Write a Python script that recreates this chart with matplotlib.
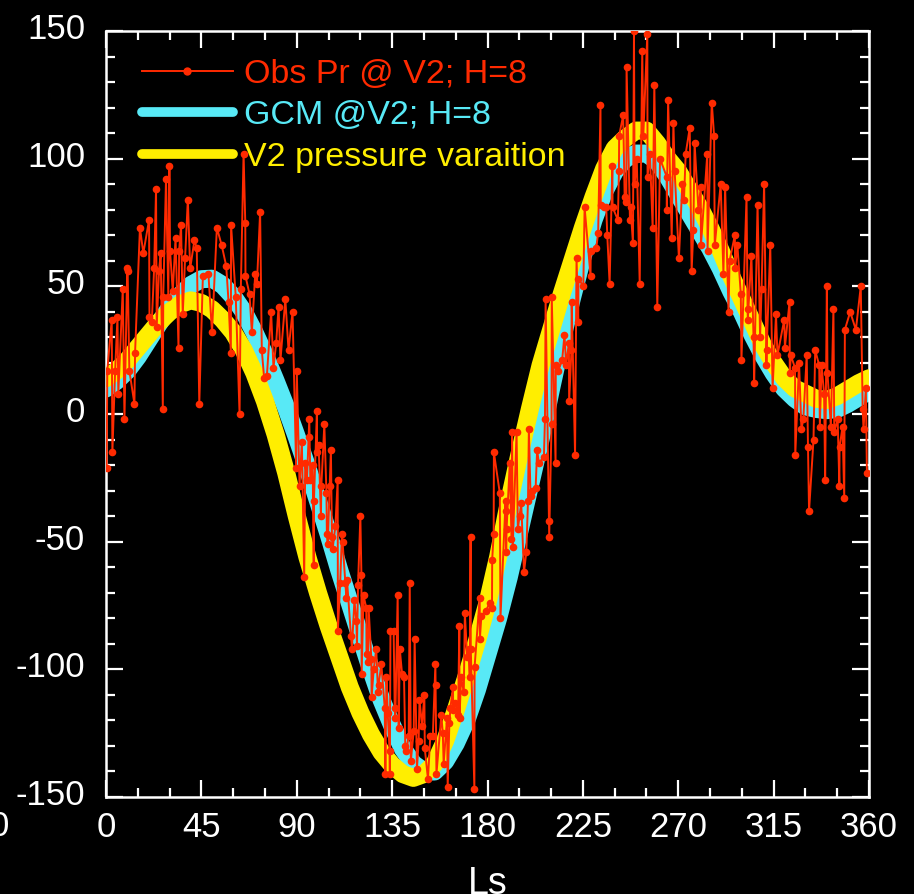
#!/usr/bin/env python3
"""Viking 2 surface pressure vs Ls: observed, GCM and V2 pressure variation."""

import matplotlib
matplotlib.use('Agg')
import matplotlib.pyplot as plt
import matplotlib.transforms as mtransforms
from matplotlib.ticker import MultipleLocator

# smooth curves, sampled every 5 deg of Ls
curve_ls = list(range(0, 361, 5))
gcm_v2 = [10, 13, 17, 22.5, 29, 35.5, 41.5, 46.5, 50.5, 52.8, 53, 50.5, 46, 40,
          32, 23, 13, 2.5, -9, -21, -34, -47, -61, -74, -87, -100, -112, -122,
          -131, -137, -140, -140, -136, -129, -120, -108, -94, -80, -64, -46,
          -28, -10, 10, 29, 46, 62, 76, 87, 95, 100, 102, 102, 99, 93, 86, 79,
          72, 65, 57, 48, 40, 31, 23, 16, 10, 6, 3, 2, 1.5, 2, 4, 6.5, 9]
v2_pressure = [14, 17, 21, 26, 31, 36, 40, 43, 44.5, 43.5, 41, 37, 32, 25, 16, 5,
               -8, -23, -40, -56, -70, -83, -95, -107, -117, -125.5, -132.5,
               -137.5, -141, -142.5, -141, -137, -128, -116, -103, -89, -74, -56,
               -35, -16, 2, 19, 33, 47, 60, 73, 85, 96, 104, 108, 111, 111, 106,
               100, 95, 88, 81, 73, 64, 54, 45, 36, 27, 20, 14, 10, 8, 6, 5.5, 7,
               9.5, 12, 14]

# observed pressure (Ls, value)
obs_ls = [
    0.3, 0.6, 2.7, 3.0, 4.3, 5.4, 5.8, 7.9, 8.7, 10.0, 10.2, 11.0, 13.4, 13.7, 16.0,
    17.6, 20.3, 20.5, 21.6, 22.7, 23.6, 23.9, 25.0, 25.8, 26.8, 27.0, 28.3, 29.4,
    29.9, 30.2, 31.5, 32.8, 34.2, 34.5, 35.4, 36.2, 37.3, 38.6, 39.7, 41.7, 42.8,
    44.0, 45.7, 48.3, 50.0, 52.3, 54.6, 56.7, 57.8, 58.9, 59.0, 61.2, 63.0, 63.6,
    64.9, 65.7, 65.8, 67.7, 68.8, 70.4, 71.2, 72.7, 73.5, 74.6, 75.9, 77.9, 79.0,
    80.3, 81.4, 82.3, 84.6, 86.1, 88.0, 89.7, 90.0, 91.3, 92.4, 93.5, 94.0, 94.8,
    95.6, 95.9, 96.4, 97.5, 98.0, 98.1, 99.5, 99.6, 100.3, 101.4, 101.6, 103.0,
    104.0, 104.2, 104.6, 105.5, 106.1, 106.6, 106.9, 108.2, 109.3, 109.4, 110.5,
    111.3, 111.6, 112.9, 113.4, 113.7, 115.6, 116.0, 117.2, 118.1, 118.4, 118.9,
    120.0, 120.5, 120.6, 121.5, 122.8, 122.9, 123.6, 123.9, 125.2, 125.3, 126.3,
    127.5, 128.3, 128.6, 129.9, 131.5, 131.8, 132.3, 132.9, 133.8, 133.9, 134.2,
    135.7, 136.2, 136.5, 137.6, 138.1, 138.6, 139.7, 140.6, 141.2, 141.7, 142.8,
    143.3, 143.8, 145.2, 145.6, 146.7, 147.5, 147.9, 149.1, 150.2, 150.4, 151.9,
    153.0, 154.2, 155.4, 155.5, 155.9, 158.2, 158.9, 159.3, 160.9, 161.2, 162.0,
    162.5, 163.7, 163.8, 164.8, 166.1, 166.7, 166.8, 167.5, 168.8, 169.3, 170.4,
    171.1, 171.6, 172.0, 172.1, 173.8, 173.9, 176.3, 176.4, 177.1, 179.3, 181.0,
    182.1, 182.2, 182.9, 183.0, 185.8, 186.1, 188.5, 188.6, 188.8, 189.0, 190.5,
    191.3, 191.6, 191.9, 193.7, 194.3, 195.1, 195.9, 197.2, 198.3, 199.1, 199.5,
    200.3, 201.1, 202.7, 203.4, 204.2, 206.6, 207.1, 207.4, 209.0, 209.1, 210.2,
    210.3, 212.1, 212.2, 213.4, 215.2, 216.3, 217.1, 218.4, 218.5, 219.6, 219.7,
    221.3, 222.0, 222.8, 222.9, 225.2, 225.8, 228.6, 228.7, 231.3, 232.2, 233.3,
    233.4, 234.9, 236.0, 236.5, 237.6, 238.9, 239.0, 241.5, 242.0, 242.1, 244.0,
    244.7, 245.5, 245.6, 247.2, 247.5, 248.6, 249.1, 249.4, 250.4, 251.8, 253.0,
    253.5, 255.4, 255.5, 256.6, 257.9, 258.7, 260.1, 261.4, 264.5, 264.6, 265.2,
    266.9, 267.7, 268.3, 270.3, 271.9, 272.7, 273.5, 275.4, 276.3, 277.1, 277.7,
    279.5, 280.6, 280.7, 283.7, 283.8, 285.8, 286.9, 287.2, 290.0, 291.3, 292.1,
    293.7, 294.2, 296.7, 296.8, 297.9, 299.5, 299.8, 302.2, 302.7, 302.8, 304.5,
    305.5, 305.8, 307.4, 308.6, 309.3, 310.5, 311.6, 311.7, 313.4, 314.5, 316.1,
    316.8, 320.0, 320.3, 322.5, 322.6, 323.1, 325.1, 325.2, 327.0, 328.1, 329.0,
    330.6, 331.2, 331.7, 333.8, 334.6, 336.5, 336.8, 337.6, 338.8, 339.3, 340.1,
    340.4, 342.0, 343.2, 343.6, 345.2, 346.0, 346.1, 347.5, 348.3, 348.6, 351.1,
    353.8, 356.1, 357.0, 357.4, 358.5, 359.0]
obs_pr = [
    -21, 17, 37, -15, 17, 38, 8, 49, -2, 57, 56, 17, 4, 24, 73,
    63, 76, 38, 36, 57, 88, 34, 56, 63, 2, 46, 92, 46,
    97, 64, 48, 69, 26, 64, 74, 39, 61, 84, 57, 68, 65,
    4, 54, 55, 32, 73, 66, 58, 44, 24, 74, 46, 0, 49,
    102, 75, 54, 47, 32, 55, 51, 79, 25, 14, 15, 40, 18,
    28, 42, 21, 45, 25, 40, -21, 17, -28, -11, -64, -19, -26,
    -9, -2, -26, -20, -59, -34, 1, -15, -12, -40, -28, -4,
    -31, -47, -51, -28, -14, -48, -53, -44, -26, -85, -66,
    -47, -50, -66, -72, -65, -87, -92, -73, -81, -91, -67,
    -40, -63, -102, -71, -76, -94, -97, -76, -96, -111, -100,
    -92, -109, -106, -98, -115, -141, -103, -117, -132, -141, -85,
    -85, -115, -119, -71, -123, -92, -102, -103, -130, -132, -126,
    -66, -136, -124, -88, -139, -128, -112, -122, -110, -131, -143,
    -126, -126, -98, -106, -141, -118, -125, -137, -119, -146, -121,
    -115, -107, -116, -113, -118, -83, -119, -103, -109, -78, -95,
    -92, -103, -48, -92, -147, -99, -72, -88, -79, -77, -74,
    -76, -57, -47, -15, -31, -80, -34, -38, -54, -45, -19,
    -49, -7, -52, -7, -45, -40, -35, -62, -54, -34, -6,
    -32, -30, -29, -14, -19, -17, -2, 45, -42, -48, -4,
    46, -19, 19, 17, 21, 31, 19, 28, 5, 25, 44,
    -16, 61, 36, 53, 50, 81, 54, 64, 65, 71, 121,
    82, 81, 81, 70, 51, 97, 81, 76, 95, 109, 117,
    85, 83, 136, 76, 81, 67, 150, 90, 100, 51, 142,
    109, 149, 93, 102, 73, 129, 42, 100, 93, 80, 123,
    69, 114, 95, 61, 90, 84, 102, 112, 56, 72, 106,
    80, 89, 66, 102, 64, 122, 109, 66, 90, 55, 89,
    40, 60, 70, 57, 66, 47, 21, 85, 41, 37, 62,
    30, 12, 82, 30, 49, 90, 19, 25, 66, 10, 39,
    23, 37, 26, 44, 16, 23, 18, -16, 20, -6, -2,
    23, -13, -38, -10, 25, 19, -5, 19, 8, -26, 50,
    16, -5, 41, -7, -2, -28, -13, -5, -33, 33, 40,
    33, 50, 2, -6, 10, -23]

x_ticks = [0, 45, 90, 135, 180, 225, 270, 315, 360]
y_ticks = [-150, -100, -50, 0, 50, 100, 150]

RED = '#FF2A00'
CYAN = '#58E9F6'
YELLOW = '#FFEE00'


def main():
    plt.rcParams['font.family'] = ['Liberation Sans', 'DejaVu Sans']
    plt.rcParams['axes.unicode_minus'] = False
    fig = plt.figure(figsize=(9.14, 8.94), dpi=100, facecolor='black')
    ax = fig.add_axes([0.116, 0.1085, 0.8348, 0.8568], facecolor='black')

    ax.plot(curve_ls, gcm_v2, color=CYAN, lw=13, solid_capstyle='round',
            solid_joinstyle='round', label='GCM @V2; H=8', zorder=2)
    ax.plot(curve_ls, v2_pressure, color=YELLOW, lw=13, solid_capstyle='round',
            solid_joinstyle='round', label='V2 pressure varaition', zorder=3)
    ax.plot(obs_ls, obs_pr, color=RED, lw=1.4, marker='o', ms=5.5, mew=0,
            label='Obs Pr @ V2; H=8', zorder=4)

    ax.set_xlim(0, 360)
    ax.set_ylim(-150, 150)
    ax.set_xticks(x_ticks)
    ax.set_yticks(y_ticks)
    ax.xaxis.set_minor_locator(MultipleLocator(15))
    ax.yaxis.set_minor_locator(MultipleLocator(10))
    ax.tick_params(which='both', direction='in', top=True, right=True,
                   colors='white', width=1.6)
    ax.tick_params(which='major', length=12, labelsize=25)
    ax.tick_params(which='minor', length=6.5)
    ax.tick_params(axis='x', which='major', pad=10)
    ax.tick_params(axis='y', which='major', pad=15)
    for sp in ax.spines.values():
        sp.set_color('white')
        sp.set_linewidth(1.8)

    # y labels sit a little above their ticks in the original
    off = mtransforms.ScaledTranslation(0, 0.05, fig.dpi_scale_trans)
    for lbl in ax.get_yticklabels():
        lbl.set_transform(lbl.get_transform() + off)

    ax.set_xlabel('Ls', color='white', fontsize=27, labelpad=16)

    handles, labels = ax.get_legend_handles_labels()
    order = [2, 0, 1]
    leg = ax.legend([handles[i] for i in order], [labels[i] for i in order],
                    loc='upper left', bbox_to_anchor=(0.047, 0.964),
                    frameon=False, fontsize=24.5, handlelength=2.67,
                    handletextpad=0.33, labelspacing=0.31, borderpad=0,
                    borderaxespad=0, labelcolor='linecolor', numpoints=1)
    leg.get_lines()[0].set_markersize(6)
    for ln in leg.get_lines()[1:]:
        ln.set_linewidth(7)

    # stray clipped label at the far left
    fig.text(-0.001, 1 - 826 / 894, '0', color='white', fontsize=25,
             ha='center', va='center')

    fig.savefig('out.png', dpi=100, facecolor='black')
    plt.close(fig)


if __name__ == '__main__':
    main()
